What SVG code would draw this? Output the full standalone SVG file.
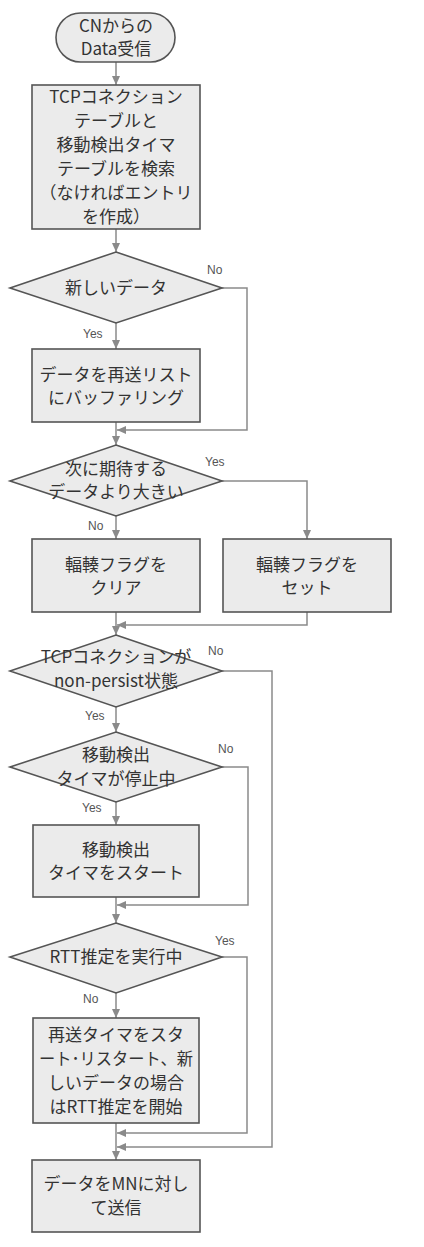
<svg xmlns="http://www.w3.org/2000/svg" width="424" height="1247" viewBox="0 0 424 1247">
<style>
.shape{fill:#ebebeb;stroke:#555;stroke-width:1.6}
.t{font-family:"Noto Sans CJK JP","Noto Sans",sans-serif;font-size:17px;fill:#333;text-anchor:middle}
.lbl{font-family:"Liberation Sans","Noto Sans",sans-serif;font-size:12px;fill:#555}
.c{fill:none;stroke:#8a8a8a;stroke-width:1.5}
</style>
<defs>
<marker id="ah" markerUnits="userSpaceOnUse" markerWidth="10" markerHeight="8" refX="9" refY="4" orient="auto">
<path d="M0,0 L9,4 L0,8 z" fill="#8a8a8a"/>
</marker>
</defs>
<rect width="424" height="1247" fill="#fff"/>
<g id="connectors">
<path class="c" d="M116,62 V85" marker-end="url(#ah)"/>
<path class="c" d="M116,229 V252" marker-end="url(#ah)"/>
<path class="c" d="M116,323 V349" marker-end="url(#ah)"/>
<path class="c" d="M222,288 H247 V430 H117" marker-end="url(#ah)"/>
<path class="c" d="M116,422 V445" marker-end="url(#ah)"/>
<path class="c" d="M116,516 V539" marker-end="url(#ah)"/>
<path class="c" d="M222,481 H307 V539" marker-end="url(#ah)"/>
<path class="c" d="M116,612 V635" marker-end="url(#ah)"/>
<path class="c" d="M307,612 V625 H117" marker-end="url(#ah)"/>
<path class="c" d="M116,707 V732" marker-end="url(#ah)"/>
<path class="c" d="M222,671 H272 V1147 H117" marker-end="url(#ah)"/>
<path class="c" d="M116,802 V825" marker-end="url(#ah)"/>
<path class="c" d="M222,767 H248 V905 H117" marker-end="url(#ah)"/>
<path class="c" d="M116,897 V923" marker-end="url(#ah)"/>
<path class="c" d="M116,993 V1018" marker-end="url(#ah)"/>
<path class="c" d="M222,957 H247 V1133 H117" marker-end="url(#ah)"/>
<path class="c" d="M116,1123 V1160" marker-end="url(#ah)"/>
<text class="lbl" x="207" y="274">No</text>
<text class="lbl" x="83" y="338">Yes</text>
<text class="lbl" x="205" y="466">Yes</text>
<text class="lbl" x="88" y="530">No</text>
<text class="lbl" x="208" y="655">No</text>
<text class="lbl" x="85" y="720">Yes</text>
<text class="lbl" x="218" y="753">No</text>
<text class="lbl" x="82" y="812">Yes</text>
<text class="lbl" x="215" y="945">Yes</text>
<text class="lbl" x="83" y="1003">No</text>
</g>
<g id="start">
<rect class="shape" x="56" y="13" width="119" height="49" rx="24.5"/>
<text class="t" x="116" y="32">CNからの</text>
<text class="t" x="116" y="55">Data受信</text>
</g>
<g id="search">
<rect class="shape" x="32" y="85" width="168" height="144"/>
<text class="t" x="116" y="103">TCPコネクション</text>
<text class="t" x="116" y="127">テーブルと</text>
<text class="t" x="116" y="151">移動検出タイマ</text>
<text class="t" x="116" y="175">テーブルを検索</text>
<text class="t" x="116" y="199">（なければエントリ</text>
<text class="t" x="116" y="223">を作成）</text>
</g>
<g id="newdata">
<polygon class="shape" points="116,252 222,288 116,323 10,288"/>
<text class="t" x="116" y="294">新しいデータ</text>
</g>
<g id="buffer">
<rect class="shape" x="32" y="349" width="168" height="73"/>
<text class="t" x="116" y="381">データを再送リスト</text>
<text class="t" x="116" y="404">にバッファリング</text>
</g>
<g id="bigger">
<polygon class="shape" points="116,445 222,481 116,516 10,481"/>
<text class="t" x="116" y="475">次に期待する</text>
<text class="t" x="116" y="498">データより大きい</text>
</g>
<g id="clear">
<rect class="shape" x="32" y="539" width="168" height="73"/>
<text class="t" x="116" y="571">輻輳フラグを</text>
<text class="t" x="116" y="594">クリア</text>
</g>
<g id="set">
<rect class="shape" x="223" y="539" width="168" height="73"/>
<text class="t" x="307" y="571">輻輳フラグを</text>
<text class="t" x="307" y="594">セット</text>
</g>
<g id="nonpersist">
<polygon class="shape" points="116,635 222,671 116,707 10,671"/>
<text class="t" x="116" y="663">TCPコネクションが</text>
<text class="t" x="116" y="687">non-persist状態</text>
</g>
<g id="timerstopped">
<polygon class="shape" points="116,732 222,767 116,802 10,767"/>
<text class="t" x="116" y="761">移動検出</text>
<text class="t" x="116" y="785">タイマが停止中</text>
</g>
<g id="starttimer">
<rect class="shape" x="33" y="825" width="166" height="72"/>
<text class="t" x="116" y="856">移動検出</text>
<text class="t" x="116" y="879">タイマをスタート</text>
</g>
<g id="rtt">
<polygon class="shape" points="116,923 222,957 116,993 10,957"/>
<text class="t" x="116" y="963">RTT推定を実行中</text>
</g>
<g id="retx">
<rect class="shape" x="33" y="1018" width="166" height="105"/>
<text class="t" x="116" y="1041">再送タイマをスタ</text>
<text class="t" x="116" y="1065" textLength="154" lengthAdjust="spacingAndGlyphs">ート･リスタート、新</text>
<text class="t" x="116" y="1089">しいデータの場合</text>
<text class="t" x="116" y="1113">はRTT推定を開始</text>
</g>
<g id="send">
<rect class="shape" x="32" y="1160" width="168" height="72"/>
<text class="t" x="116" y="1190">データをMNに対し</text>
<text class="t" x="116" y="1214">て送信</text>
</g>
</svg>
